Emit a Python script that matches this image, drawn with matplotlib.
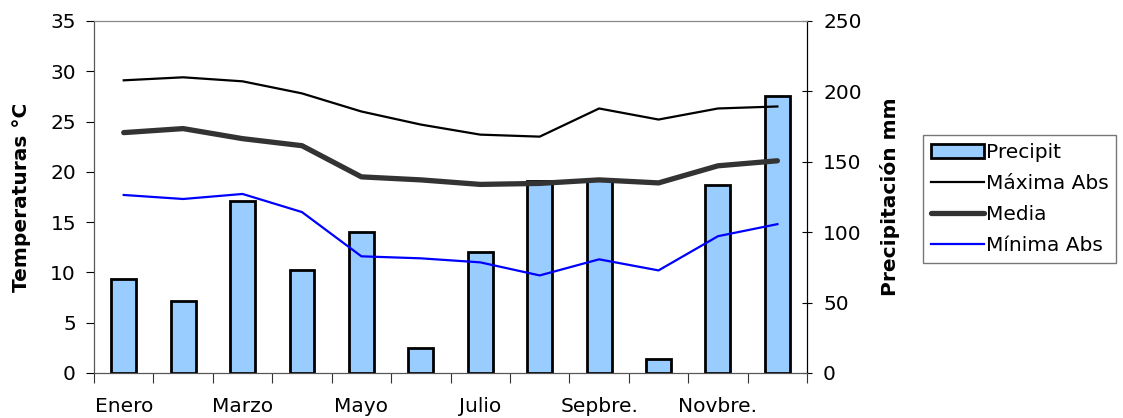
import matplotlib.pyplot as plt
from matplotlib.ticker import FixedLocator, NullFormatter

months = ["Enero", "Febrero", "Marzo", "Abril", "Mayo", "Junio",
          "Julio", "Agosto", "Sepbre.", "Octubre", "Novbre.", "Dicbre."]
tick_labels = ["Enero", "Marzo", "Mayo", "Julio", "Sepbre.", "Novbre."]

precip = [67, 51, 122, 73, 100, 17.5, 86, 136, 138, 10, 133.5, 197]
t_max = [29.1, 29.4, 29.0, 27.8, 26.0, 24.7, 23.7, 23.5, 26.3, 25.2, 26.3, 26.5]
t_media = [23.9, 24.3, 23.3, 22.6, 19.5, 19.2, 18.75, 18.85, 19.2, 18.9, 20.6, 21.1]
t_min = [17.7, 17.3, 17.8, 16.0, 11.6, 11.4, 11.0, 9.7, 11.3, 10.2, 13.6, 14.8]

plt.rcParams["font.family"] = ["DejaVu Sans"]
fs = 14.5

fig = plt.figure(figsize=(11.23, 4.18), dpi=100)
ax = fig.add_axes([0.0837, 0.1077, 0.635, 0.8421])
ax2 = ax.twinx()

x = list(range(len(months)))

# precipitation bars sit underneath the temperature lines
ax2.bar(x, precip, width=0.42, color="#99CCFF", edgecolor="black",
        linewidth=2, label="Precipit", zorder=1)
ax2.set_ylim(0, 250)
ax2.set_yticks(range(0, 251, 50))

ax.set_zorder(ax2.get_zorder() + 1)
ax.patch.set_visible(False)
ax2.set_facecolor("#CCFFFF")

ax.plot(x, t_max, color="black", lw=1.6, label="Máxima Abs")
ax.plot(x, t_media, color="#333333", lw=3.8, label="Media", solid_capstyle="round")
ax.plot(x, t_min, color="#0000FF", lw=1.6, label="Mínima Abs")
ax.set_ylim(0, 35)
ax.set_yticks(range(0, 36, 5))
ax.set_xlim(-0.5, 11.5)

ax.xaxis.set_major_locator(FixedLocator([i - 0.5 for i in range(13)]))
ax.xaxis.set_major_formatter(NullFormatter())
ax.xaxis.set_minor_locator(FixedLocator([0, 2, 4, 6, 8, 10]))
ax.set_xticklabels(tick_labels, minor=True)
ax.tick_params(axis="x", which="major", length=7, direction="out", color="#333333")
ax.tick_params(axis="x", which="minor", length=0, pad=17, labelsize=fs)
ax.tick_params(axis="y", length=6, direction="out", labelsize=fs, pad=7)
ax2.tick_params(axis="y", length=7, direction="inout", labelsize=fs, pad=8)

for a in (ax, ax2):
    a.spines["top"].set_color("#888888")
    a.spines["bottom"].set_color("#555555")
    a.spines["left"].set_color("#555555")
    a.spines["right"].set_color("black")

ax.set_ylabel("Temperaturas °C", fontsize=fs, fontweight="bold", labelpad=14)
ax2.set_ylabel("Precipitación mm", fontsize=fs, fontweight="bold", labelpad=13)

h1, l1 = ax2.get_legend_handles_labels()
h2, l2 = ax.get_legend_handles_labels()
leg = fig.legend(h1 + h2, l1 + l2, loc="upper left",
                 bbox_to_anchor=(0.822, 0.677), fontsize=fs, frameon=True,
                 fancybox=False, edgecolor="#555555", handlelength=2.6,
                 handleheight=0.75, handletextpad=0.1, borderaxespad=0,
                 borderpad=0.4, labelspacing=0.6)
leg.get_frame().set_linewidth(1)

fig.savefig("out.png", dpi=100)
